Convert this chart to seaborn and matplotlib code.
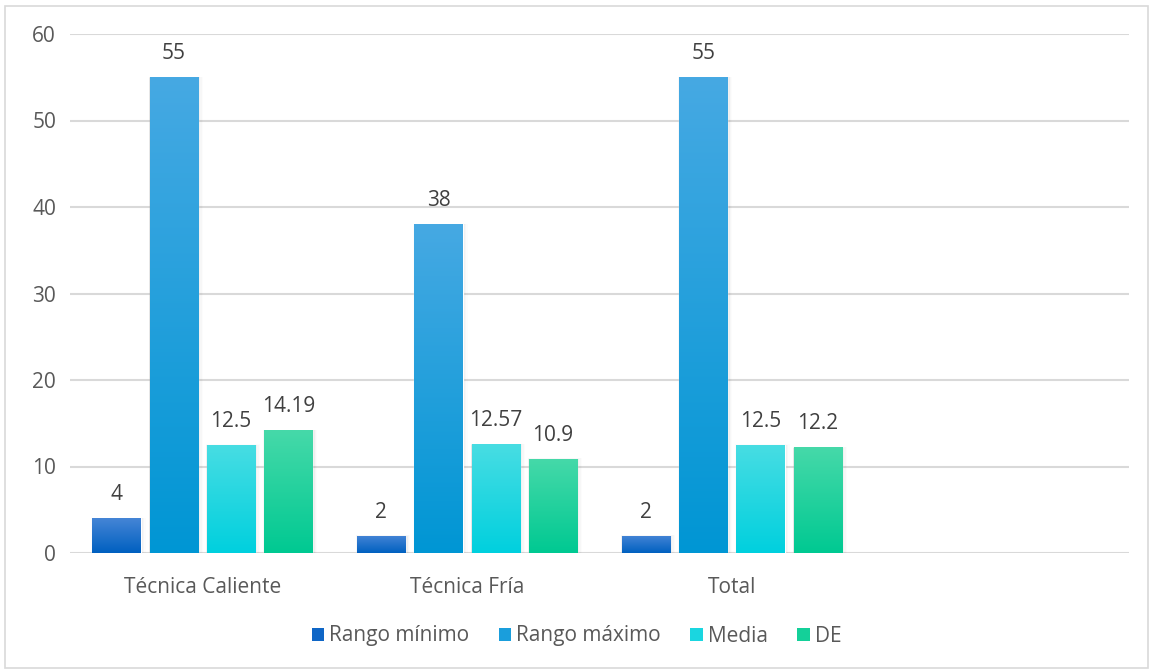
import numpy as np
import pandas as pd
import matplotlib
matplotlib.use("Agg")
import matplotlib.pyplot as plt
import seaborn as sns
from matplotlib.patches import Patch, Rectangle
from matplotlib.colors import LinearSegmentedColormap

categories = ["Técnica Caliente", "Técnica Fría", "Total"]
series = ["Rango mínimo", "Rango máximo", "Media", "DE"]
rango_minimo = [4, 2, 2]
rango_maximo = [55, 38, 55]
media = [12.5, 12.57, 12.5]
de = [14.19, 10.9, 12.2]
value_labels = {
    "Rango mínimo": ["4", "2", "2"],
    "Rango máximo": ["55", "38", "55"],
    "Media": ["12.5", "12.57", "12.5"],
    "DE": ["14.19", "10.9", "12.2"],
}
yticks = [0, 10, 20, 30, 40, 50, 60]

grad_top = {"Rango mínimo": "#4585d6", "Rango máximo": "#46a9e3", "Media": "#48dde3", "DE": "#46d9a9"}
grad_bot = {"Rango mínimo": "#0060c0", "Rango máximo": "#0096d4", "Media": "#00d0de", "DE": "#00c992"}
legend_col = {"Rango mínimo": "#0f66c6", "Rango máximo": "#1a9edc", "Media": "#1ad6e0", "DE": "#14d099"}

rows = []
for s, vals in zip(series, [rango_minimo, rango_maximo, media, de]):
    for c, v in zip(categories, vals):
        rows.append({"cat": c, "serie": s, "val": v})
df = pd.DataFrame(rows)

sns.set_theme(style="white")
plt.rcParams["font.family"] = ["Open Sans", "DejaVu Sans"]

fig = plt.figure(figsize=(11.53, 6.72), dpi=100)
ax = fig.add_axes([70 / 1153, 1 - 553 / 672, (1129 - 70) / 1153, (553 - 34) / 672])

sns.barplot(data=df, x="cat", y="val", hue="serie", order=categories, hue_order=series,
            palette=[legend_col[s] for s in series], width=0.865, gap=0.16,
            ax=ax, legend=False, zorder=3)

ax.set_xlim(-0.5, 3.5)
ax.set_ylim(0, 60)

# gradients, soft shadows, labels
for container, s in zip(ax.containers, series):
    cmap = LinearSegmentedColormap.from_list(s, [grad_bot[s], grad_top[s]])
    for bar, lab in zip(container, value_labels[s]):
        x, w, h = bar.get_x(), bar.get_width(), bar.get_height()
        for i, a in enumerate([0.05, 0.035, 0.02, 0.012]):
            off = 0.003 + i * 0.004
            sh = Rectangle((x - off * 0.3, -0.15 - i * 0.08), w + off * 1.6, h + 0.1 + i * 0.12,
                           facecolor="black", edgecolor="none", alpha=a, zorder=2)
            ax.add_patch(sh)
        grad = np.linspace(0, 1, 256).reshape(-1, 1)
        im = ax.imshow(grad, cmap=cmap, extent=(x, x + w, 0, h), origin="lower",
                       aspect="auto", zorder=4, interpolation="bilinear")
        im.set_clip_path(bar)
        ax.annotate(lab, (x + w / 2, h), xytext=(0, 9.5), textcoords="offset points",
                    ha="center", va="bottom", fontsize=15, color="#404040")

ax.set_xlim(-0.5, 3.5)
ax.set_ylim(0, 60)
ax.set_yticks(yticks)
ax.yaxis.grid(True, color="#d9d9d9", linewidth=1.5, zorder=0)
ax.xaxis.grid(False)
for sp in ax.spines.values():
    sp.set_visible(False)
ax.tick_params(axis="y", length=0, pad=10, labelsize=15, labelcolor="#595959")
ax.tick_params(axis="x", length=0, pad=17, labelsize=15, labelcolor="#595959")
ax.set_xlabel("")
ax.set_ylabel("")

handles = [Patch(facecolor=legend_col[s], edgecolor="none", label=s) for s in series]
fig.legend(handles=handles, loc="center", bbox_to_anchor=(0.5, 1 - 636 / 672), ncol=4,
           frameon=False, fontsize=15, handlelength=0.6, handleheight=0.6,
           handletextpad=0.25, columnspacing=1.4, labelcolor="#595959")

fig.patches.append(Rectangle((5 / 1153, 4 / 672), 1 - 10 / 1153, 1 - 10 / 672,
                             transform=fig.transFigure, fill=False,
                             edgecolor="#d9d9d9", linewidth=1.2))

fig.savefig("out.png", dpi=100)
